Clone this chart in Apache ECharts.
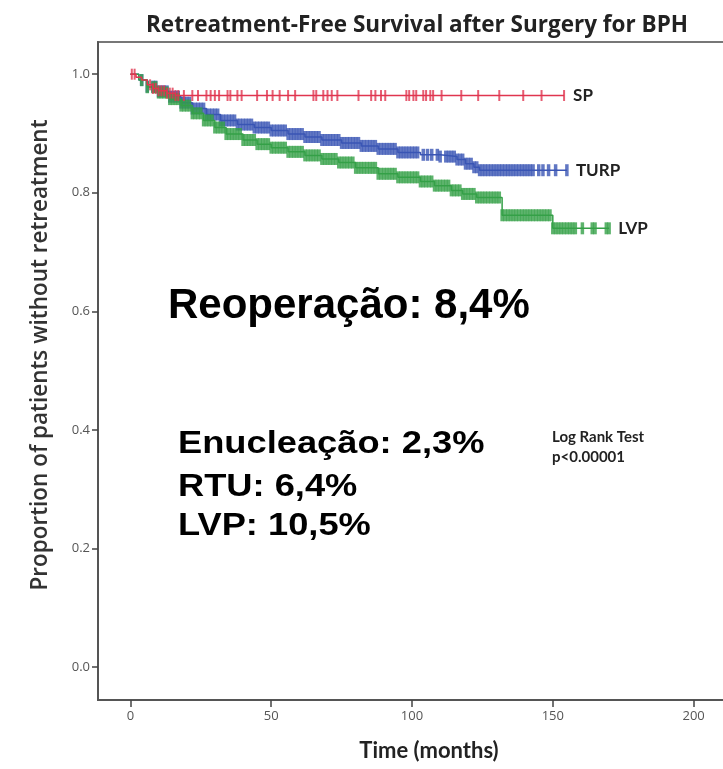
<!DOCTYPE html>
<html>
<head>
<meta charset="utf-8">
<script src="https://cdn.jsdelivr.net/npm/echarts@6/dist/echarts.min.js"></script>
<style>
html,body{margin:0;padding:0;background:#fff;}
#chart{width:723px;height:769px;}
</style>
</head>
<body>
<div id="chart"></div>
<script>
// ---- Data ----
const xTicks = [0, 50, 100, 150, 200];
const yTicks = [0.0, 0.2, 0.4, 0.6, 0.8, 1.0];

// Kaplan-Meier steps: time (months) and survival after that time
const spTime = [0, 2, 4, 6, 8, 10, 13, 16, 154];
const spSurv = [1.0, 0.995, 0.99, 0.982, 0.976, 0.972, 0.968, 0.964, 0.964];

const turpTime = [0, 3, 6, 10, 14, 18, 22, 27, 32, 38, 44, 50, 56, 62, 68, 75, 82, 88, 95, 103, 110, 116, 119, 122, 124, 155];
const turpSurv = [1.0, 0.99, 0.979, 0.971, 0.962, 0.952, 0.942, 0.932, 0.922, 0.915, 0.91, 0.905, 0.899, 0.894, 0.889, 0.884, 0.879, 0.874, 0.868, 0.864, 0.861, 0.856, 0.849, 0.843, 0.838, 0.838];

const lvpTime = [0, 3, 6, 10, 14, 18, 22, 26, 30, 34, 40, 45, 50, 56, 62, 68, 74, 80, 88, 95, 103, 108, 114, 118, 123, 132, 150, 170];
const lvpSurv = [1.0, 0.99, 0.978, 0.969, 0.958, 0.947, 0.934, 0.922, 0.91, 0.899, 0.889, 0.882, 0.876, 0.869, 0.863, 0.857, 0.851, 0.842, 0.832, 0.826, 0.819, 0.812, 0.804, 0.798, 0.792, 0.762, 0.740, 0.740];

// Censoring times (tick marks)
const spCensor = [0.5, 1.5, 7, 8, 9, 10, 11, 12, 13, 14, 15, 16, 17, 19, 22, 24, 27, 28.5, 30, 31.5, 34.5, 35.5, 38, 39.5, 45, 48.5, 50.5, 53, 56, 58.5, 65, 66, 68.5, 70, 71.5, 73.5, 81, 85.5, 87, 89, 90.5, 98, 99, 100.5, 101.5, 104, 105, 106.5, 107.5, 110.5, 117.5, 123.5, 131, 139.5, 146, 154];
const turpCensor = [4, 6, 8, 9, 10, 11, 12, 13, 14, 15, 16, 17, 18, 19, 20, 21, 22, 23, 24, 25, 26, 27, 28, 29, 30, 31, 32, 33, 34, 35, 36, 37, 38, 39, 40, 41, 42, 43, 44, 45, 46, 47, 48, 49, 50, 51, 52, 53, 54, 55, 56, 57, 58, 59, 60, 61, 62, 63, 64, 65, 66, 67, 68, 69, 70, 71, 72, 73, 74, 75, 76, 77, 78, 79, 80, 81, 82, 83, 84, 85, 86, 87, 88, 89, 90, 91, 92, 93, 94, 95, 96, 97, 98, 99, 100, 101, 102, 104, 105.5, 107, 109, 110, 112, 113, 114, 115, 116, 117, 118, 119, 120, 121, 122, 123, 124, 125, 126, 127, 128, 129, 130, 131, 132, 133, 134, 135, 136, 137, 138, 139, 140, 141, 142, 143, 145, 146.5, 148.5, 151, 155];
const lvpCensor = [4, 6, 8, 9, 10, 11, 12, 13, 14, 15, 16, 17, 18, 19, 20, 21, 22, 23, 24, 25, 26, 27, 28, 29, 30, 31, 32, 33, 34, 35, 36, 37, 38, 39, 40, 41, 42, 43, 44, 45, 46, 47, 48, 49, 50, 51, 52, 53, 54, 55, 56, 57, 58, 59, 60, 61, 62, 63, 64, 65, 66, 67, 68, 69, 70, 71, 72, 73, 74, 75, 76, 77, 78, 79, 80, 81, 82, 83, 84, 85, 86, 87, 88, 89, 90, 91, 92, 93, 94, 95, 96, 97, 98, 99, 100, 101, 102, 103, 104, 105, 106, 107, 108, 109, 110, 111, 112, 113, 114, 115, 116, 117, 118, 119, 120, 121, 122, 123, 124, 125, 126, 127, 128, 129, 130, 131, 132, 133, 134, 135, 136, 137, 138, 139, 140, 141, 142, 143, 144, 145, 146, 147, 148, 149, 150, 151, 152, 153, 154, 155, 156, 157, 158, 160.5, 164, 165, 169, 170];

const colors = {SP: '#e0354f', TURP: '#3a55b4', LVP: '#34a047'};

// ---- helpers ----
function kmPairs(t, s) { return t.map((v, i) => [v, s[i]]); }
function survAt(t, times, surv) {
  let v = surv[0];
  for (let i = 0; i < times.length; i++) { if (times[i] <= t) v = surv[i]; }
  return v;
}
function censorPairs(c, times, surv) { return c.map(t => [t, survAt(t, times, surv)]); }

const labelFont = 'Lato, "Open Sans", sans-serif';
const arialBold = '"Liberation Sans", Arial, sans-serif';

function kmLine(name, t, s, z) {
  return {
    name: name, type: 'line', step: 'end', data: kmPairs(t, s), symbol: 'none', z: z,
    lineStyle: {color: colors[name], width: 1.5},
    endLabel: {show: true, formatter: name, distance: 9, color: '#222', fontSize: 17, fontWeight: 'bold', fontFamily: labelFont},
    animation: false
  };
}
function censorSeries(name, c, t, s, w, h, z) {
  return {
    name: name + ' censored', type: 'scatter', data: censorPairs(c, t, s), symbol: 'rect', symbolSize: [w, h], z: z,
    itemStyle: {color: colors[name]}, animation: false, silent: true
  };
}

const chart = echarts.init(document.getElementById('chart'));
chart.setOption({
  animation: false,
  backgroundColor: '#fff',
  title: {
    text: 'Retreatment-Free Survival after Surgery for BPH',
    left: 141, top: 9,
    textStyle: {fontFamily: '"Open Sans", sans-serif', fontWeight: 'bold', fontSize: 22.5, color: '#222'}
  },
  grid: {left: 98, right: -3, top: 42, bottom: 69, show: true, borderColor: '#777', borderWidth: 2, outerBoundsMode: 'none', containLabel: false},
  xAxis: {
    type: 'value', min: -11.5, max: 211.5,
    name: 'Time (months)', nameLocation: 'middle', nameGap: 40,
    nameTextStyle: {fontFamily: labelFont, fontWeight: 'bold', fontSize: 22, color: '#222', padding: [0, 0, 0, 34]},
    axisLine: {show: true, onZero: false, lineStyle: {color: '#555', width: 2}},
    axisTick: {show: true, inside: false, length: 7, customValues: xTicks, lineStyle: {color: '#444', width: 1.5}},
    axisLabel: {customValues: xTicks, color: '#555', fontSize: 13, fontFamily: '"Open Sans", sans-serif', margin: 10, showMinLabel: true, showMaxLabel: true},
    splitLine: {show: false}
  },
  yAxis: {
    type: 'value', min: -0.0557, max: 1.0543,
    axisLine: {show: true, onZero: false, lineStyle: {color: '#555', width: 2}},
    axisTick: {show: true, inside: false, length: 6, customValues: yTicks, lineStyle: {color: '#444', width: 1.5}},
    axisLabel: {customValues: yTicks, color: '#555', fontSize: 13, fontFamily: '"Open Sans", sans-serif', margin: 8, formatter: v => v.toFixed(1)},
    splitLine: {show: false}
  },
  graphic: [
    {type: 'text', x: 41, y: 355, rotation: Math.PI / 2, style: {text: 'Proportion of patients without retreatment', font: '600 22.5px "Open Sans", sans-serif', fill: '#333', align: 'center', verticalAlign: 'middle'}},
    {type: 'text', x: 168, y: 306, style: {text: 'Reoperação: 8,4%', font: 'bold 42px ' + arialBold, fill: '#000', verticalAlign: 'middle'}},
    {type: 'text', x: 178, y: 444, scaleX: 1.17, style: {text: 'Enucleação: 2,3%', font: 'bold 31px ' + arialBold, fill: '#000', verticalAlign: 'middle'}},
    {type: 'text', x: 178, y: 487, scaleX: 1.17, style: {text: 'RTU: 6,4%', font: 'bold 31px ' + arialBold, fill: '#000', verticalAlign: 'middle'}},
    {type: 'text', x: 178, y: 526, scaleX: 1.17, style: {text: 'LVP: 10,5%', font: 'bold 31px ' + arialBold, fill: '#000', verticalAlign: 'middle'}},
    {type: 'text', x: 552, y: 437, style: {text: 'Log Rank Test', font: 'bold 15px Lato, sans-serif', fill: '#222', verticalAlign: 'middle'}},
    {type: 'text', x: 552, y: 457, style: {text: 'p<0.00001', font: 'bold 15px Lato, sans-serif', fill: '#222', verticalAlign: 'middle'}}
  ],
  series: [
    kmLine('TURP', turpTime, turpSurv, 2),
    censorSeries('TURP', turpCensor, turpTime, turpSurv, 3.5, 12, 2),
    kmLine('LVP', lvpTime, lvpSurv, 3),
    censorSeries('LVP', lvpCensor, lvpTime, lvpSurv, 3.5, 12, 3),
    kmLine('SP', spTime, spSurv, 4),
    censorSeries('SP', spCensor, spTime, spSurv, 2, 11, 4)
  ]
});
</script>
</body>
</html>
